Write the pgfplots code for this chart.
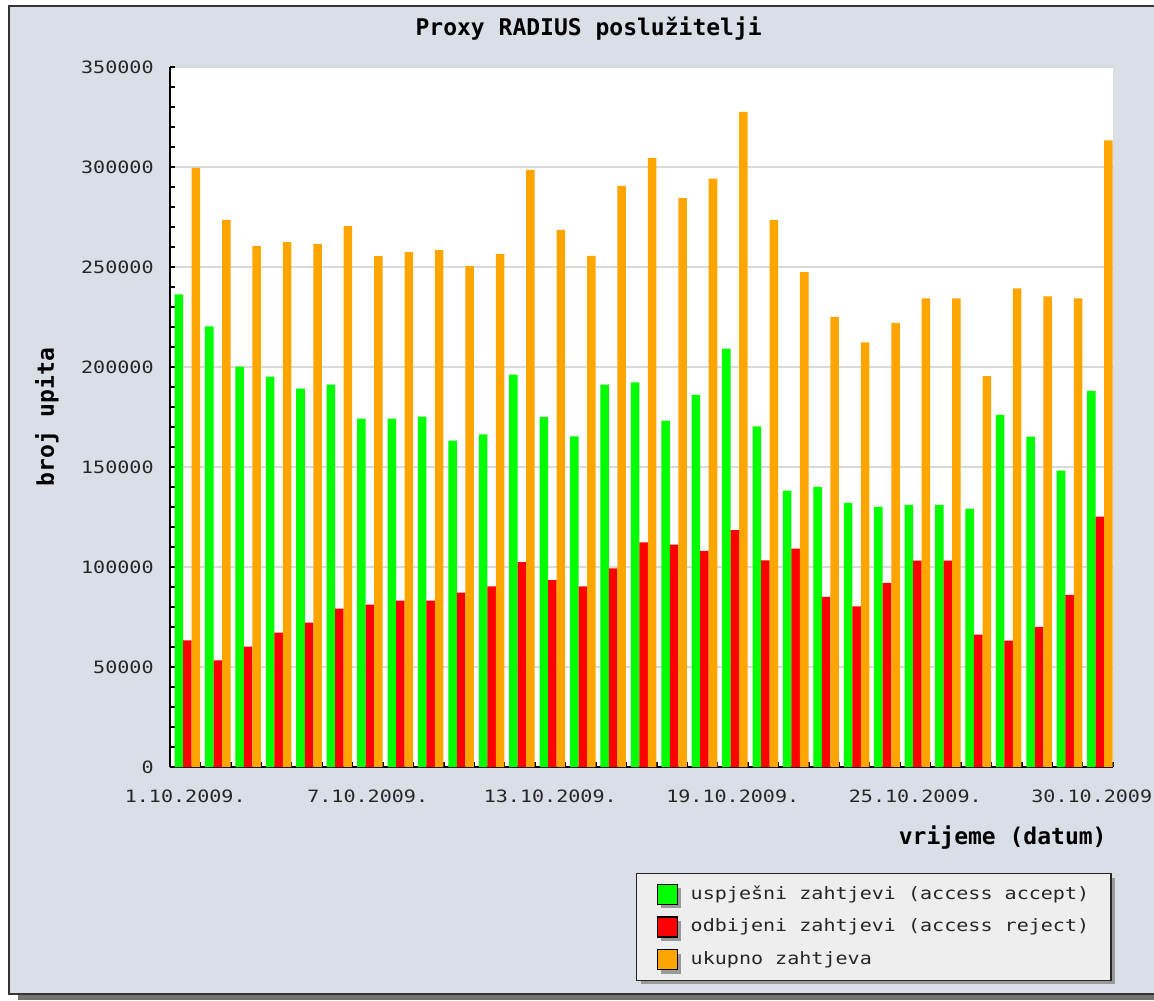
\documentclass[border=0pt]{standalone}
\usepackage{pgfplots}
\pgfplotsset{compat=1.18}
\usepackage{pgfplotstable}
\usepackage{fontspec}
\setmainfont{DejaVu Sans Mono}
\newfontfamily\tickfont[FakeStretch=1.18]{DejaVu Sans Mono}
\usetikzlibrary{shadows}
\definecolor{panelbg}{RGB}{218,222,231}
\definecolor{accgreen}{RGB}{0,255,0}
\definecolor{rejred}{RGB}{255,0,0}
\definecolor{totorange}{RGB}{255,165,0}
\definecolor{legbg}{RGB}{238,238,238}

\pgfplotstableread{
x acc rej tot
0 236300 63300 299600
1 220300 53300 273600
2 200200 60200 260400
3 195200 67200 262400
4 189200 72200 261400
5 191200 79200 270400
6 174200 81200 255400
7 174200 83200 257400
8 175200 83200 258400
9 163200 87200 250400
10 166300 90300 256600
11 196200 102400 298600
12 175100 93400 268500
13 165300 90300 255600
14 191200 99300 290500
15 192300 112300 304600
16 173200 111200 284400
17 186100 108100 294200
18 209200 118400 327600
19 170300 103300 273600
20 138200 109200 247400
21 140000 85100 225100
22 132000 80300 212300
23 130100 92000 222100
24 131100 103200 234300
25 131100 103200 234300
26 129200 66200 195400
27 176100 63200 239300
28 165200 70100 235300
29 148200 86100 234300
30 188100 125200 313300
}\datatable

\pgfplotsset{
  sqlegend/.style={legend image code/.code={\draw[##1,/tikz/.cd,draw=black,line width=0.6pt] (0pt,-5pt) rectangle (10pt,5pt);}}
}

\begin{document}
\begin{tikzpicture}
\useasboundingbox (0pt,0pt) rectangle (577pt,500pt);
\fill[white] (0pt,0pt) rectangle (577pt,500pt);
\fill[black!55] (9pt,0pt) rectangle (600pt,3pt);
\fill[panelbg] (4.5pt,3pt) rectangle (600pt,497pt);
\draw[black!80, line width=1pt] (600pt,3pt) -- (4.5pt,3pt) -- (4.5pt,497pt) -- (600pt,497pt);
\begin{axis}[
  at={(85pt,116.5pt)}, anchor=south west,
  scale only axis, width=471.5pt, height=350pt,
  xmin=-0.5, xmax=30.5, ymin=0, ymax=350000,
  axis background/.style={fill=white},
  axis lines*=left,
  axis line style={black, line width=1pt, -},
  tick align=inside,
  major tick length=2.5pt, minor tick length=2.5pt,
  tick style={black, line width=0.8pt},
  xtick={0,6,12,18,24,30},
  xticklabels={1.10.2009.,7.10.2009.,13.10.2009.,19.10.2009.,25.10.2009.,30.10.2009.},
  every major x tick/.append style={draw=none},
  minor xtick={0.5,1.5,...,30.5},
  minor x tick style={black, line width=0.8pt},
  ytick={0,50000,100000,150000,200000,250000,300000,350000},
  yticklabels={0,50000,100000,150000,200000,250000,300000,350000},
  scaled y ticks=false,
  minor y tick num=4,
  ymajorgrids,
  grid style={black!15, line width=0.7pt},
  x tick label style={font=\tickfont\fontsize{8.5}{10}\selectfont, text=black!85, inner sep=0pt, anchor=north, yshift=-11pt},
  y tick label style={font=\tickfont\fontsize{8.5}{10}\selectfont, text=black!85, inner sep=0pt, anchor=east, xshift=-8pt},
  title={Proxy RADIUS poslužitelji},
  title style={font=\bfseries\fontsize{11.5}{14}\selectfont, inner sep=0pt, at={(axis description cs:0.444,1.038)}, anchor=center},
  ylabel={broj upita},
  ylabel style={font=\bfseries\fontsize{11.5}{14}\selectfont, inner sep=0pt, at={(axis description cs:-0.1304,0.5)}, anchor=center},
  xlabel={vrijeme (datum)},
  xlabel style={font=\bfseries\fontsize{11.5}{14}\selectfont, inner sep=0pt, at={(axis description cs:0.9936,-0.1014)}, anchor=east},
  legend cell align=left,
  legend style={at={(axis description cs:0.999,-0.151)}, anchor=north east,
    draw=black!85, line width=0.8pt, fill=legbg,
    font=\tickfont\fontsize{8.5}{10}\selectfont, text=black!85,
    inner xsep=10pt, inner ysep=5pt, row sep=5.8pt,
    nodes={inner sep=1pt},
    /tikz/every odd column/.append style={column sep=5.5pt},
    drop shadow={shadow xshift=2pt, shadow yshift=-2pt, fill=black!40, opacity=1}},
]
\addplot[ybar, bar width=0.28, bar shift=-0.21, fill=accgreen, draw=none, sqlegend] table[x=x,y=acc]{\datatable};
\addlegendentry{uspješni zahtjevi (access accept)}
\addplot[ybar, bar width=0.28, bar shift=0.07, fill=rejred, draw=none, sqlegend] table[x=x,y=rej]{\datatable};
\addlegendentry{odbijeni zahtjevi (access reject)}
\addplot[ybar, bar width=0.28, bar shift=0.35, fill=totorange, draw=none, sqlegend] table[x=x,y=tot]{\datatable};
\addlegendentry{ukupno zahtjeva}
\end{axis}
\end{tikzpicture}
\end{document}
